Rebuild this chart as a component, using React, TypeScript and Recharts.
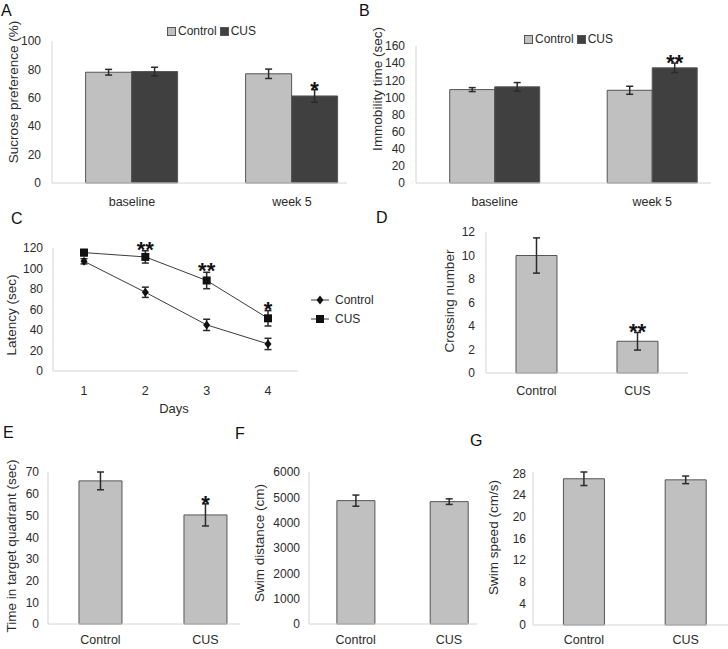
import React from 'react';
import { BarChart, Bar, LineChart, Line, XAxis, YAxis, ErrorBar, LabelList, Legend, Label } from 'recharts';

const FONT = '"Liberation Sans", Arial, sans-serif';
const TXT = '#2b2b2b';
const AXIS = '#d4d4d4';
const LIGHT = '#c0c0c0';
const DARK = '#404040';
const EDGE = '#555555';
const ERR = '#2a2a2a';
const LINE = '#3c3c3c';

const seriesNames = ['Control', 'CUS'];

// A: sucrose preference
const sptGroups = ['baseline', 'week 5'];
const sptControl = [78.0, 76.9];
const sptControlErr = [2.0, 3.3];
const sptCus = [78.5, 61.3];
const sptCusErr = [3.0, 4.4];
const sptSig = ['', '*'];
const sptTicks = [0, 20, 40, 60, 80, 100];

// B: immobility time
const fstGroups = ['baseline', 'week 5'];
const fstControl = [109.1, 108.3];
const fstControlErr = [2.3, 4.7];
const fstCus = [112.3, 134.5];
const fstCusErr = [5.0, 5.5];
const fstSig = ['', '**'];
const fstTicks = [0, 20, 40, 60, 80, 100, 120, 140, 160];

// C: escape latency
const days = ['1', '2', '3', '4'];
const latControl = [107, 76.8, 45, 26.4];
const latControlErr = [2.5, 5, 5.5, 5.5];
const latCus = [115.5, 111.3, 88.3, 51.4];
const latCusErr = [3, 6, 8, 7.5];
const latSig = ['', '**', '**', '*'];
const latTicks = [0, 20, 40, 60, 80, 100, 120];

// D-G: probe trial
const groups = ['Control', 'CUS'];
const crossing = [10, 2.7];
const crossingErr = [1.5, 0.75];
const crossingSig = ['', '**'];
const crossingTicks = [0, 2, 4, 6, 8, 10, 12];

const quadrant = [66, 50.3];
const quadrantErr = [4.1, 5.1];
const quadrantSig = ['', '*'];
const quadrantTicks = [0, 10, 20, 30, 40, 50, 60, 70];

const distance = [4870, 4830];
const distanceErr = [220, 110];
const distanceSig = ['', ''];
const distanceTicks = [0, 1000, 2000, 3000, 4000, 5000, 6000];

const speed = [27.0, 26.8];
const speedErr = [1.25, 0.7];
const speedSig = ['', ''];
const speedTicks = [0, 4, 8, 12, 16, 20, 24, 28];

const pairData = (cats: string[], c: number[], ce: number[], u: number[], ue: number[], s: string[]) =>
  cats.map((g, i) => ({ group: g, control: c[i], controlErr: ce[i], cus: u[i], cusErr: ue[i], sig: s[i] }));

const singleData = (v: number[], e: number[], s: string[]) =>
  groups.map((g, i) => ({ group: g, value: v[i], err: e[i], sig: s[i] }));

const latData = days.map((d, i) => ({
  day: d,
  control: latControl[i],
  controlErr: latControlErr[i],
  cus: latCus[i],
  cusErr: latCusErr[i],
  cusTop: latCus[i] + latCusErr[i],
  sig: latSig[i],
}));

const tickStyle = { fill: TXT, fontSize: 12, fontFamily: FONT };
const xTickStyle = { fill: TXT, fontSize: 12.5, fontFamily: FONT };

// keep legend in series order, drop helper series
const legendItems = (payload: any[] | undefined) =>
  (payload || [])
    .filter((e) => seriesNames.includes(e.value))
    .sort((a, b) => seriesNames.indexOf(a.value) - seriesNames.indexOf(b.value));

const starText = (x: number, y: number, s: string) => (
  <text x={x} y={y} textAnchor="middle" fontSize={22} fontWeight="bold" fill="#111" fontFamily={FONT}>
    {s}
  </text>
);

// star above the error bar of a bar
const barStar = (values: number[], errs: number[]) => (props: any) => {
  const { value, index } = props;
  if (!value) return null;
  const vb = props.viewBox ?? props;
  const x = Number(vb.x), y = Number(vb.y), w = Number(vb.width), h = Number(vb.height);
  const top = Math.min(y, y + h);
  const perUnit = Math.abs(h) / values[index];
  const errTop = top - errs[index] * perUnit;
  return starText(x + w / 2, errTop + 7, value);
};

const pointStar = (props: any) => {
  const { value } = props;
  if (!value) return null;
  const vb = props.viewBox ?? props;
  return starText(Number(vb.x), Number(vb.y) + 6, value);
};

const yTitle = (text: string, cx: number, cy: number) => (
  <Label
    content={() => (
      <text x={cx} y={cy} transform={`rotate(-90 ${cx} ${cy})`} textAnchor="middle" dominantBaseline="central"
        fontSize={13.5} fill={TXT} fontFamily={FONT}>
        {text}
      </text>
    )}
  />
);

const barLegend = (props: any) => (
  <div style={{ display: 'flex', alignItems: 'center', fontSize: 12, lineHeight: '14px', color: TXT, fontFamily: FONT }}>
    {legendItems(props.payload).map((entry: any) => (
      <span key={entry.value} style={{ display: 'flex', alignItems: 'center', marginRight: 3 }}>
        <span style={{ width: 7, height: 7, background: entry.color, border: `1px solid ${EDGE}`, marginRight: 2 }} />
        {entry.value}
      </span>
    ))}
  </div>
);

const diamondDot = (props: any) => {
  const { cx, cy, index } = props;
  return <path key={`dm${index}`} d={`M${cx},${cy - 4.5}L${cx + 3.5},${cy}L${cx},${cy + 4.5}L${cx - 3.5},${cy}Z`} fill="#111" />;
};

const squareDot = (props: any) => {
  const { cx, cy, index } = props;
  return <rect key={`sq${index}`} x={cx - 4} y={cy - 4} width={8} height={8} fill="#111" />;
};

const latLegend = (props: any) => (
  <div style={{ fontSize: 12, color: TXT, fontFamily: FONT }}>
    {legendItems(props.payload).map((entry: any) => (
      <div key={entry.value} style={{ display: 'flex', alignItems: 'center', height: 19 }}>
        <svg width={20} height={10}>
          <line x1={0} x2={18} y1={5} y2={5} stroke={LINE} />
          {entry.value === 'CUS'
            ? <rect x={5} y={1} width={8} height={8} fill="#111" />
            : <path d="M9,0.5L12.5,5L9,9.5L5.5,5Z" fill="#111" />}
        </svg>
        <span style={{ marginLeft: 4 }}>{entry.value}</span>
      </div>
    ))}
  </div>
);

type PairProps = {
  data: any[]; ticks: number[]; top: number; right: number; yWidth: number; padRight: number; gap: string;
  title: string; tx: number; ty: number; legendLeft: number; legendTop: number;
};

function PairChart(p: PairProps) {
  return (
    <BarChart width={364} height={210} data={p.data} margin={{ top: p.top, right: p.right, bottom: 0, left: 0 }}
      barCategoryGap={p.gap} barGap={0}>
      <XAxis dataKey="group" height={27} padding={{ left: 0, right: p.padRight }} axisLine={{ stroke: AXIS }}
        tickLine={false} tickSize={6} tickMargin={8} tick={xTickStyle} />
      <YAxis width={p.yWidth} domain={[0, p.ticks[p.ticks.length - 1]]} ticks={p.ticks} interval={0}
        axisLine={{ stroke: AXIS }} tickLine={false} tickSize={5} tickMargin={6} tick={tickStyle}>
        {yTitle(p.title, p.tx, p.ty)}
      </YAxis>
      <Legend content={barLegend} layout="horizontal" verticalAlign="middle" align="center"
        wrapperStyle={{ left: p.legendLeft, top: p.legendTop, width: 'auto' }} />
      <Bar dataKey="control" name="Control" fill={LIGHT} stroke={EDGE} isAnimationActive={false}>
        <ErrorBar dataKey="controlErr" width={3.5} stroke={ERR} />
      </Bar>
      <Bar dataKey="cus" name="CUS" fill={DARK} stroke={EDGE} isAnimationActive={false}>
        <ErrorBar dataKey="cusErr" width={3.5} stroke={ERR} />
        <LabelList dataKey="sig" content={barStar(p.data.map((d) => d.cus), p.data.map((d) => d.cusErr))} />
      </Bar>
    </BarChart>
  );
}

type SingleProps = {
  values: number[]; errs: number[]; sig: string[]; ticks: number[]; width: number; height: number;
  top: number; right: number; yWidth: number; xHeight: number; padRight: number; gap: string;
  title: string; tx: number; ty: number; yGap: number; xGap: number;
};

function SingleChart(p: SingleProps) {
  const data = singleData(p.values, p.errs, p.sig);
  return (
    <BarChart width={p.width} height={p.height} data={data} margin={{ top: p.top, right: p.right, bottom: 0, left: 0 }}
      barCategoryGap={p.gap}>
      <XAxis dataKey="group" height={p.xHeight} padding={{ left: 0, right: p.padRight }} axisLine={{ stroke: AXIS }}
        tickLine={false} tickSize={6} tickMargin={p.xGap} tick={xTickStyle} />
      <YAxis width={p.yWidth} domain={[0, p.ticks[p.ticks.length - 1]]} ticks={p.ticks} interval={0}
        axisLine={{ stroke: AXIS }} tickLine={false} tickSize={4} tickMargin={p.yGap - 4} tick={tickStyle}>
        {yTitle(p.title, p.tx, p.ty)}
      </YAxis>
      <Bar dataKey="value" fill={LIGHT} stroke={EDGE} isAnimationActive={false}>
        <ErrorBar dataKey="err" width={3.5} stroke={ERR} />
        <LabelList dataKey="sig" content={barStar(p.values, p.errs)} />
      </Bar>
    </BarChart>
  );
}

function LatencyChart() {
  return (
    <LineChart width={410} height={220} data={latData} margin={{ top: 48, right: 112, bottom: 0, left: 0 }}>
      <XAxis dataKey="day" height={49} padding={{ left: 31, right: 30 }} axisLine={{ stroke: AXIS }}
        tickLine={false} tickSize={6} tickMargin={9} tick={xTickStyle}>
        <Label content={() => (
          <text x={174} y={208} textAnchor="middle" dominantBaseline="central" fontSize={13} fill={TXT} fontFamily={FONT}>Days</text>
        )} />
      </XAxis>
      <YAxis width={53} domain={[0, 120]} ticks={latTicks} interval={0} axisLine={{ stroke: AXIS }}
        tickLine={false} tickSize={4} tickMargin={6} tick={tickStyle}>
        {yTitle('Latency (sec)', 11, 115)}
      </YAxis>
      <Legend content={latLegend} layout="vertical" verticalAlign="middle" align="center"
        wrapperStyle={{ left: 311, top: 90, width: 'auto' }} />
      <Line dataKey="control" name="Control" stroke={LINE} strokeWidth={1} dot={diamondDot} activeDot={false}
        isAnimationActive={false}>
        <ErrorBar dataKey="controlErr" width={3.5} stroke={ERR} />
      </Line>
      <Line dataKey="cus" name="CUS" stroke={LINE} strokeWidth={1} dot={squareDot} activeDot={false}
        isAnimationActive={false}>
        <ErrorBar dataKey="cusErr" width={3.5} stroke={ERR} />
      </Line>
      <Line dataKey="cusTop" legendType="none" stroke="none" dot={false} activeDot={false} isAnimationActive={false}>
        <LabelList dataKey="sig" content={pointStar} />
      </Line>
    </LineChart>
  );
}

const letterStyle: React.CSSProperties = { position: 'absolute', fontSize: 16, lineHeight: '16px', color: '#111' };

export default function App() {
  return (
    <div style={{ position: 'absolute', left: 0, top: 0, width: 728, height: 649, background: '#fff', overflow: 'hidden', fontFamily: FONT, color: TXT }}>
      <div style={{ position: 'absolute', left: 0, top: 0 }}>
        <PairChart data={pairData(sptGroups, sptControl, sptControlErr, sptCus, sptCusErr, sptSig)} ticks={sptTicks}
          top={41} right={17} yWidth={52} padRight={-25} gap="21%" title="Sucrose preference (%)" tx={13.5} ty={92}
          legendLeft={167} legendTop={24} />
      </div>
      <div style={{ position: 'absolute', left: 364, top: 0 }}>
        <PairChart data={pairData(fstGroups, fstControl, fstControlErr, fstCus, fstCusErr, fstSig)} ticks={fstTicks}
          top={46} right={17} yWidth={52} padRight={-20} gap="21.4%" title="Immobility time (sec)" tx={13} ty={89}
          legendLeft={160} legendTop={32} />
      </div>
      <div style={{ position: 'absolute', left: 0, top: 200 }}>
        <LatencyChart />
      </div>
      <div style={{ position: 'absolute', left: 364, top: 200 }}>
        <SingleChart values={crossing} errs={crossingErr} sig={crossingSig} ticks={crossingTicks} width={364} height={220}
          top={32} right={40} yWidth={122} xHeight={47} padRight={0} gap="29.7%" title="Crossing number" tx={85} ty={101}
          yGap={11} xGap={7} />
      </div>
      <div style={{ position: 'absolute', left: 0, top: 420 }}>
        <SingleChart values={quadrant} errs={quadrantErr} sig={quadrantSig} ticks={quadrantTicks} width={240} height={229}
          top={52} right={0} yWidth={48} xHeight={25} padRight={-18} gap="29.5%" title="Time in target quadrant (sec)"
          tx={11} ty={126} yGap={9} xGap={5} />
      </div>
      <div style={{ position: 'absolute', left: 240, top: 420 }}>
        <SingleChart values={distance} errs={distanceErr} sig={distanceSig} ticks={distanceTicks} width={240} height={229}
          top={52} right={3} yWidth={69} xHeight={25} padRight={-18.6} gap="29.9%" title="Swim distance (cm)"
          tx={19} ty={123} yGap={9} xGap={5} />
      </div>
      <div style={{ position: 'absolute', left: 480, top: 420 }}>
        <SingleChart values={speed} errs={speedErr} sig={speedSig} ticks={speedTicks} width={248} height={229}
          top={52} right={0} yWidth={53} xHeight={24} padRight={-8.5} gap="29.9%" title="Swim speed (cm/s)"
          tx={13} ty={117.5} yGap={7} xGap={4} />
      </div>
      <div style={{ ...letterStyle, left: 1, top: 3 }}>A</div>
      <div style={{ ...letterStyle, left: 359, top: 3 }}>B</div>
      <div style={{ ...letterStyle, left: 11, top: 211 }}>C</div>
      <div style={{ ...letterStyle, left: 376, top: 210 }}>D</div>
      <div style={{ ...letterStyle, left: 3, top: 425 }}>E</div>
      <div style={{ ...letterStyle, left: 235, top: 426 }}>F</div>
      <div style={{ ...letterStyle, left: 470, top: 433 }}>G</div>
    </div>
  );
}
